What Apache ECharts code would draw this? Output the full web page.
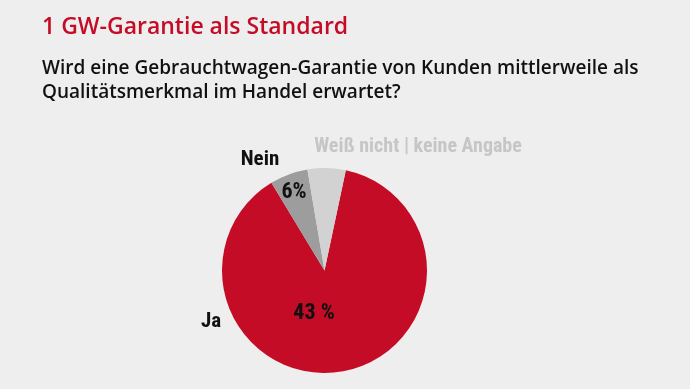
<!DOCTYPE html>
<html><head><meta charset="utf-8">
<script src="https://cdn.jsdelivr.net/npm/echarts@6/dist/echarts.min.js"></script>
<style>html,body{margin:0;padding:0;background:#eeeeee;}#c{width:690px;height:389px;}</style>
</head><body><div id="c"></div>
<script>
const titleText = '1 GW-Garantie als Standard';
const subtitleText = 'Wird eine Gebrauchtwagen-Garantie von Kunden mittlerweile als\nQualitätsmerkmal im Handel erwartet?';
const categories = ['Ja', 'Nein', 'Weiß nicht | keine Angabe'];
const values = [88, 6, 6];
const valueLabels = ['43 %', '6%', ''];
const colors = ['#c50c27', '#9d9d9d', '#d2d2d2'];

const nameLabelPos = [[211, 322], [260, 160], [418, 147]];
const nameLabelColor = ['#111111', '#111111', '#c6c6c6'];
const nameLabelSize = [21, 21, 20];
const valueLabelPos = [[314, 313], [294, 192], [0, 0]];

const chart = echarts.init(document.getElementById('c'), null, {renderer: 'canvas'});
const labelFont = '"Roboto Condensed", "DejaVu Sans Condensed", sans-serif';
const center = [324.5, 270.5];
const radius = 102.5;

chart.setOption({
  backgroundColor: '#eeeeee',
  animation: false,
  title: [
    {text: titleText, left: 37, top: 11,
     textStyle: {fontFamily: '"Open Sans", sans-serif', fontSize: 23, fontWeight: 600, color: '#c50c27'}},
    {text: subtitleText, left: 37, top: 52,
     textStyle: {fontFamily: '"Open Sans", sans-serif', fontSize: 19, fontWeight: 600, color: '#111111', lineHeight: 24}}
  ],
  series: [
    {
      type: 'pie', center: center, radius: radius, startAngle: 78, clockwise: true,
      silent: true,
      data: categories.map((c, i) => ({name: c, value: values[i], itemStyle: {color: colors[i]}})),
      label: {
        show: true, position: 'inside',
        formatter: p => valueLabels[p.dataIndex],
        fontFamily: labelFont, fontWeight: 'bold', fontSize: 22, color: '#111111'
      },
      labelLine: {show: false},
      labelLayout: p => ({x: valueLabelPos[p.dataIndex][0], y: valueLabelPos[p.dataIndex][1], align: 'center', verticalAlign: 'middle'})
    },
    {
      type: 'pie', center: center, radius: radius, startAngle: 78, clockwise: true,
      silent: true, z: 3,
      data: categories.map((c, i) => ({name: c, value: values[i], itemStyle: {color: 'rgba(0,0,0,0)'},
        label: {color: nameLabelColor[i], fontSize: nameLabelSize[i]}})),
      label: {
        show: true, position: 'outside',
        formatter: p => p.name,
        fontFamily: labelFont, fontWeight: 'bold', fontSize: 21
      },
      labelLine: {show: false},
      labelLayout: p => ({x: nameLabelPos[p.dataIndex][0], y: nameLabelPos[p.dataIndex][1], align: 'center', verticalAlign: 'middle'})
    }
  ]
});
</script></body></html>
